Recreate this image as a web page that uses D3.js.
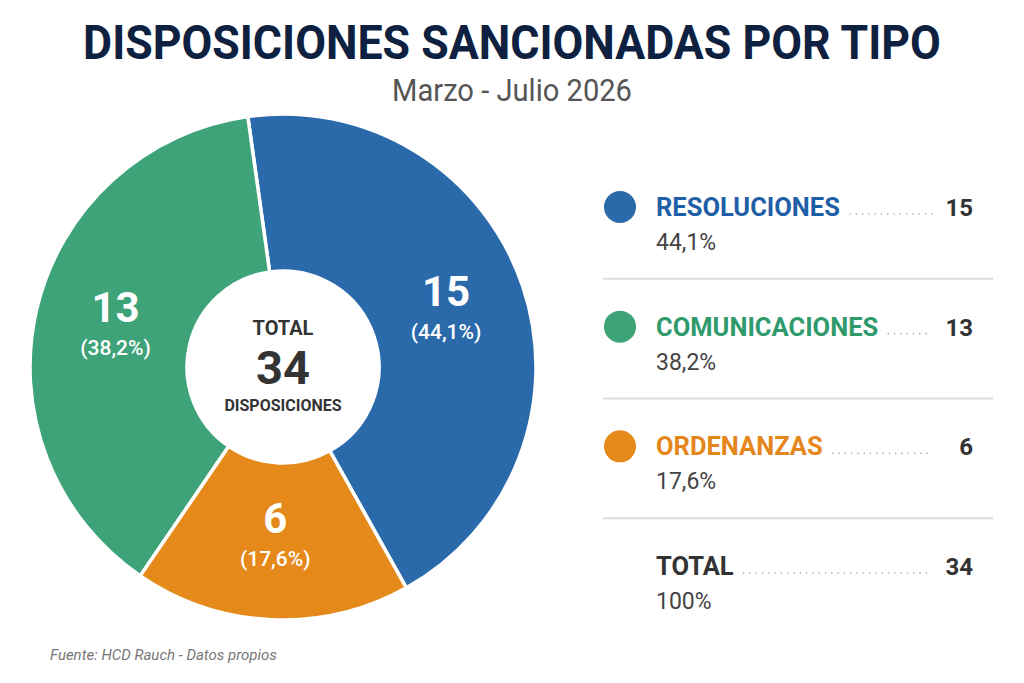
<!DOCTYPE html>
<html>
<head>
<meta charset="utf-8">
<script src="https://cdn.jsdelivr.net/npm/d3@7"></script>
<style>
  html, body { margin: 0; padding: 0; background: #ffffff; }
  svg { display: block; font-family: Roboto, "Noto Sans", sans-serif; }
</style>
</head>
<body>
<div id="chart"></div>
<script>
// data
const categories = ["RESOLUCIONES", "COMUNICACIONES", "ORDENANZAS"];
const values = [15, 13, 6];
const colors = ["#2a6aab", "#3fa37a", "#e5891b"];
const textColors = ["#1f5fa6", "#2f9a6c", "#e4861b"];
// clockwise order of the slices, starting at the top
const pieOrder = ["RESOLUCIONES", "ORDENANZAS", "COMUNICACIONES"];
const totalLabel = "TOTAL";

const width = 1024;
const height = 683;

const svg = d3.select("#chart").append("svg")
    .attr("width", width)
    .attr("height", height);

svg.append("rect").attr("width", width).attr("height", height).attr("fill", "#ffffff");

const locale = d3.formatLocale({ decimal: ",", thousands: ".", grouping: [3], currency: ["$", ""] });
const pct = locale.format(".1%");
const total = d3.sum(values);
const data = categories.map((c, i) => ({ name: c, value: values[i], color: colors[i], textColor: textColors[i] }));

// titles, squeezed to the width of the reference lettering
function fitText(sel, targetW) {
    const w = sel.node().getComputedTextLength();
    const x = +sel.attr("x"), y = +sel.attr("y");
    const k = targetW / w;
    sel.attr("x", 0).attr("y", 0)
        .attr("transform", `translate(${x},${y}) scale(${k},1)`);
}

const title = svg.append("text")
    .attr("x", width / 2).attr("y", 59)
    .attr("text-anchor", "middle")
    .attr("font-size", 48).attr("font-weight", 700)
    .attr("fill", "#0e2140")
    .text("DISPOSICIONES SANCIONADAS POR TIPO");
fitText(title, 858);

const subtitle = svg.append("text")
    .attr("x", width / 2).attr("y", 101)
    .attr("text-anchor", "middle")
    .attr("font-size", 31)
    .attr("fill", "#555555")
    .text("Marzo - Julio 2026");
fitText(subtitle, 240);

// donut
const cx = 283, cy = 367;
const outerR = 253, innerR = 96;
const start = -8 * Math.PI / 180;

const pie = d3.pie()
    .sort((a, b) => pieOrder.indexOf(a.name) - pieOrder.indexOf(b.name))
    .value(d => d.value)
    .startAngle(start).endAngle(start + 2 * Math.PI);
const arc = d3.arc().innerRadius(innerR).outerRadius(outerR);
const labelArc = d3.arc().innerRadius(172).outerRadius(172);

const g = svg.append("g").attr("transform", `translate(${cx},${cy})`);

g.selectAll("path.slice")
    .data(pie(data))
    .join("path")
    .attr("class", "slice")
    .attr("d", arc)
    .attr("fill", d => d.data.color)
    .attr("stroke", "#ffffff")
    .attr("stroke-width", 3.5);

const lbl = g.selectAll("g.lbl")
    .data(pie(data))
    .join("g")
    .attr("class", "lbl")
    .attr("transform", d => `translate(${labelArc.centroid(d)})`);

lbl.append("text")
    .attr("text-anchor", "middle")
    .attr("y", -6)
    .attr("font-size", 42).attr("font-weight", 700)
    .attr("fill", "#ffffff")
    .text(d => d.data.value);

lbl.append("text")
    .attr("text-anchor", "middle")
    .attr("y", 27)
    .attr("font-size", 21).attr("font-weight", 500)
    .attr("fill", "#ffffff")
    .text(d => `(${pct(d.data.value / total)})`);

// center
g.append("text").attr("text-anchor", "middle").attr("y", -32)
    .attr("font-size", 20).attr("font-weight", 700).attr("fill", "#333333")
    .text(totalLabel);
g.append("text").attr("text-anchor", "middle").attr("y", 17)
    .attr("font-size", 47).attr("font-weight", 700).attr("fill", "#333333")
    .text(total);
g.append("text").attr("text-anchor", "middle").attr("y", 44)
    .attr("font-size", 16).attr("font-weight", 700).attr("fill", "#333333")
    .text("DISPOSICIONES");

// legend
const rows = data.concat([{ name: totalLabel, value: total, color: null, textColor: "#333333" }]);
const y = d3.scalePoint().domain(rows.map(d => d.name)).range([207, 566]);
const textX = 656, valueX = 973, dotsEnd = 932;

const row = svg.selectAll("g.row")
    .data(rows)
    .join("g")
    .attr("class", "row")
    .attr("transform", d => `translate(0,${y(d.name)})`);

row.filter(d => d.color)
    .append("circle")
    .attr("cx", 620).attr("cy", 0).attr("r", 16)
    .attr("fill", d => d.color);

row.append("text")
    .attr("class", "name")
    .attr("x", textX).attr("y", 9)
    .attr("font-size", 25.5).attr("font-weight", 700)
    .attr("fill", d => d.textColor)
    .text(d => d.name);

row.each(function () {
    const w = d3.select(this).select("text.name").node().getComputedTextLength();
    d3.select(this).append("line")
        .attr("x1", textX + w + 10).attr("x2", dotsEnd)
        .attr("y1", 7).attr("y2", 7)
        .attr("stroke", "#a8a8a8").attr("stroke-width", 1.6)
        .attr("stroke-linecap", "round")
        .attr("stroke-dasharray", "0.1,6.2");
});

row.append("text")
    .attr("x", valueX).attr("y", 9)
    .attr("text-anchor", "end")
    .attr("font-size", 24).attr("font-weight", 700)
    .attr("fill", "#333333")
    .text(d => d.value);

row.append("text")
    .attr("x", textX).attr("y", 43)
    .attr("font-size", 23)
    .attr("fill", "#444444")
    .text(d => d.color ? pct(d.value / total) : "100%");

// separators
const step = y.step();
svg.selectAll("line.sep")
    .data(rows.slice(0, -1))
    .join("line")
    .attr("class", "sep")
    .attr("x1", 603).attr("x2", 993)
    .attr("y1", d => y(d.name) + step * 0.6).attr("y2", d => y(d.name) + step * 0.6)
    .attr("stroke", "#dddddd").attr("stroke-width", 2);

// source
svg.append("text")
    .attr("x", 50).attr("y", 660)
    .attr("font-size", 15).attr("font-style", "italic")
    .attr("fill", "#777777")
    .text("Fuente: HCD Rauch - Datos propios");
</script>
</body>
</html>
